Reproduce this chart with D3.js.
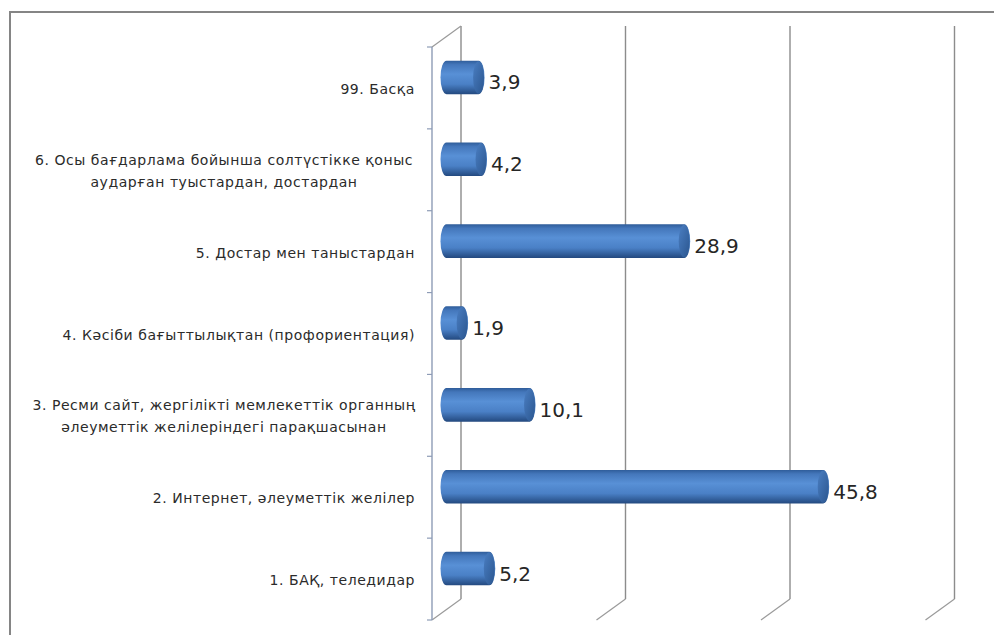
<!DOCTYPE html>
<html>
<head>
<meta charset="utf-8">
<script src="https://cdn.jsdelivr.net/npm/d3@7"></script>
<style>
	html, body { margin: 0; padding: 0; background: #fff; }
	svg { display: block; }
	.cat { font-family: "DejaVu Sans", sans-serif; font-size: 14px; letter-spacing: 0.55px; fill: #2b2b2b; }
	.val { font-family: "DejaVu Sans", sans-serif; font-size: 20px; fill: #262626; }
</style>
</head>
<body>
<svg id="chart" width="994" height="635"></svg>
<script>
// категориялар жоғарыдан төмен қарай
var categories = [
		"99. Басқа",
		"6. Осы бағдарлама бойынша солтүстікке қоныс\nаударған туыстардан, достардан",
		"5. Достар мен таныстардан",
		"4. Кәсіби бағыттылықтан (профориентация)",
		"3. Ресми сайт, жергілікті мемлекеттік органның\nәлеуметтік желілеріндегі парақшасынан",
		"2. Интернет, әлеуметтік желілер",
		"1. БАҚ, теледидар"
	],
	values = [3.9, 4.2, 28.9, 1.9, 10.1, 45.8, 5.2],
	gridTicks = [0, 20, 40, 60];

var svg = d3.select("#chart"),
	width = +svg.attr("width"),
	height = +svg.attr("height");

// 3D depth: front plane is shifted left/down from the back wall
var depthX = -29,
	depthY = 21;

// x on the back wall, y band on the front plane
var x = d3.scaleLinear().domain([0, 60]).range([461, 954.5]),
	y = d3.scaleBand().domain(categories).range([47, 620]);

var defs = svg.append("defs");
var grad = defs.append("linearGradient")
	.attr("id", "barGrad")
	.attr("x1", 0).attr("y1", 0).attr("x2", 0).attr("y2", 1);
grad.append("stop").attr("offset", "0%").attr("stop-color", "#2f5d9a");
grad.append("stop").attr("offset", "12%").attr("stop-color", "#4477bb");
grad.append("stop").attr("offset", "40%").attr("stop-color", "#5890d6");
grad.append("stop").attr("offset", "70%").attr("stop-color", "#4a80c6");
grad.append("stop").attr("offset", "100%").attr("stop-color", "#23497f");

var capGrad = defs.append("linearGradient")
	.attr("id", "capGrad")
	.attr("x1", 0).attr("y1", 0).attr("x2", 1).attr("y2", 1);
capGrad.append("stop").attr("offset", "0%").attr("stop-color", "#4a7ec2");
capGrad.append("stop").attr("offset", "100%").attr("stop-color", "#2b568f");

// рамка
svg.append("path")
	.attr("d", "M10," + (height + 5) + "V12H" + (width + 5))
	.attr("fill", "none")
	.attr("stroke", "#858585")
	.attr("stroke-width", 2);

var grid = svg.append("g").attr("class", "grid");
var backTop = y.range()[0] - depthY,
	backBottom = y.range()[1] - depthY;

// vertical lines on the back wall + floor diagonals
gridTicks.forEach(function (t) {
	grid.append("line")
		.attr("x1", x(t)).attr("x2", x(t))
		.attr("y1", backTop).attr("y2", backBottom)
		.attr("stroke", "#8c8c8c")
		.attr("stroke-width", 1.4);
	grid.append("line")
		.attr("x1", x(t)).attr("y1", backBottom)
		.attr("x2", x(t) + depthX).attr("y2", backBottom + depthY)
		.attr("stroke", "#9a9a9a")
		.attr("stroke-width", 1.2);
});

// left wall: front edge, top diagonal, ticks
var frontX = x(0) + depthX;
grid.append("line")
	.attr("x1", frontX).attr("x2", frontX)
	.attr("y1", y.range()[0]).attr("y2", y.range()[1])
	.attr("stroke", "#8e9cb6")
	.attr("stroke-width", 1.4);
grid.append("line")
	.attr("x1", frontX).attr("y1", y.range()[0])
	.attr("x2", x(0)).attr("y2", backTop)
	.attr("stroke", "#9a9a9a")
	.attr("stroke-width", 1.2);
var bounds = categories.map(function (c) { return y(c); }).concat([y.range()[1]]);
grid.selectAll(".tick")
	.data(bounds)
	.enter()
	.append("line")
	.attr("x1", frontX - 5).attr("x2", frontX)
	.attr("y1", function (d) { return d; })
	.attr("y2", function (d) { return d; })
	.attr("stroke", "#8e9cb6")
	.attr("stroke-width", 1.2);

// cylinder bars at mid depth
var barH = y.bandwidth() * 0.41,
	rx = 6;

var rows = categories.map(function (c, i) { return {key: c, value: values[i]}; });

var bar = svg.selectAll(".bar")
	.data(rows)
	.enter()
	.append("g")
	.attr("class", "bar");

bar.each(function (d) {
	var g = d3.select(this),
		cy = y(d.key) + y.bandwidth() / 2 + depthY / 2 - depthY,
		x0 = x(0) + depthX / 2,
		x1 = x(d.value) + depthX / 2,
		top = cy - barH / 2,
		bot = cy + barH / 2,
		ry = barH / 2;
	var p = "M" + x0 + "," + top +
		"L" + x1 + "," + top +
		"A" + rx + "," + ry + " 0 0 1 " + x1 + "," + bot +
		"L" + x0 + "," + bot +
		"A" + rx + "," + ry + " 0 0 1 " + x0 + "," + top + "Z";
	g.append("path")
		.attr("d", p)
		.attr("fill", "url(#barGrad)");
	g.append("ellipse")
		.attr("cx", x1).attr("cy", cy)
		.attr("rx", rx - 0.5).attr("ry", ry - 0.5)
		.attr("fill", "url(#capGrad)");
	g.append("text")
		.attr("class", "val")
		.attr("x", x1 + rx + 4)
		.attr("y", cy + 5)
		.attr("dominant-baseline", "central")
		.text(d3.format(".1f")(d.value).replace(".", ","));
});

// category labels: one line right aligned, two lines centred
var labels = svg.append("g").attr("class", "labels");
categories.forEach(function (c) {
	var lines = c.split("\n"),
		cy = y(c) + y.bandwidth() / 2 + 1,
		lh = 22;
	var t = labels.append("text")
		.attr("class", "cat")
		.attr("text-anchor", lines.length > 1 ? "middle" : "end")
		.attr("dominant-baseline", "central");
	lines.forEach(function (l, i) {
		t.append("tspan")
			.attr("x", lines.length > 1 ? 224 : 415)
			.attr("y", cy + (i - (lines.length - 1) / 2) * lh)
			.text(l);
	});
});
</script>
</body>
</html>
